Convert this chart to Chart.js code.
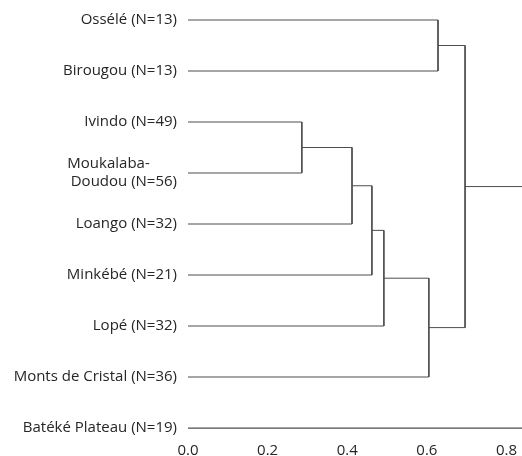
<!DOCTYPE html>
<html>
<head>
<meta charset="utf-8">
<script src="https://cdn.jsdelivr.net/npm/chart.js@4/dist/chart.umd.min.js"></script>
<style>
    html, body { margin: 0; padding: 0; background: #fff; }
    #wrap { width: 522px; height: 456px; }
</style>
</head>
<body>
<div id="wrap"><canvas id="dendro"></canvas></div>
<script>
"use strict";

// Leaves from top to bottom.
const leaves = [
    "Ossélé (N=13)",
    "Birougou (N=13)",
    "Ivindo (N=49)",
    ["Moukalaba-       ", "Doudou (N=56)"],
    "Loango (N=32)",
    "Minkébé (N=21)",
    "Lopé (N=32)",
    "Monts de Cristal (N=36)",
    "Batéké Plateau (N=19)"
];

// Merges: numbers are leaf indexes, "m0".."m7" point to an earlier merge.
const mergeLeft   = [2, "m0", "m1", "m2", "m3", 0, "m5", "m6"];
const mergeRight  = [3, 4, 5, 6, 7, 1, "m4", 8];
const mergeHeight = [0.286, 0.412, 0.462, 0.492, 0.605, 0.628, 0.696, 0.95];

// Tick labels on the distance axis.
const xTicks = [0.0, 0.2, 0.4, 0.6, 0.8];
const xMax = 0.839;

// Work out where each node sits: its height and its row.
const nodeHeight = {};
const nodeRow = {};
function node(ref) {
    if (typeof ref === "number") {
        return { x: 0, y: ref };
    }
    return { x: nodeHeight[ref], y: nodeRow[ref] };
}

const datasets = [];
for (let i = 0; i < mergeHeight.length; i++) {
    const a = node(mergeLeft[i]);
    const b = node(mergeRight[i]);
    const h = mergeHeight[i];
    nodeHeight["m" + i] = h;
    nodeRow["m" + i] = (a.y + b.y) / 2;
    datasets.push({
        data: [
            { x: a.x, y: a.y },
            { x: h, y: a.y },
            { x: h, y: b.y },
            { x: b.x, y: b.y }
        ],
        showLine: true,
        clip: false,
        borderColor: "#4d4d4d",
        borderWidth: 1,
        pointRadius: 0,
        tension: 0
    });
}

const font = { family: "Open Sans", size: 15 };

new Chart(document.getElementById("dendro"), {
    type: "scatter",
    data: { datasets: datasets },
    options: {
        responsive: true,
        maintainAspectRatio: false,
        animation: false,
        layout: { padding: { top: 19, right: 0, bottom: 0, left: 0 } },
        plugins: {
            legend: { display: false },
            tooltip: { enabled: false }
        },
        scales: {
            x: {
                type: "linear",
                min: 0,
                max: xMax,
                grid: { display: false, drawTicks: false },
                border: { display: true, color: "#a6a6a6", width: 1 },
                afterBuildTicks: function(scale) {
                    scale.ticks = xTicks.map(v => ({ value: v }));
                },
                afterFit: function(scale) {
                    scale.height = 28;
                    scale.paddingLeft = 0;
                    scale.paddingRight = 0;
                },
                ticks: {
                    color: "#262626",
                    font: font,
                    padding: 14,
                    maxRotation: 0,
                    callback: v => v.toFixed(1)
                }
            },
            y: {
                type: "linear",
                reverse: true,
                min: 0,
                max: leaves.length - 1,
                grid: { display: false, drawTicks: false },
                border: { display: false },
                afterBuildTicks: function(scale) {
                    scale.ticks = leaves.map((l, i) => ({ value: i }));
                },
                afterFit: function(scale) {
                    scale.width = 188;
                },
                ticks: {
                    color: "#262626",
                    font: font,
                    padding: 11,
                    callback: v => leaves[v]
                }
            }
        }
    }
});
</script>
</body>
</html>
